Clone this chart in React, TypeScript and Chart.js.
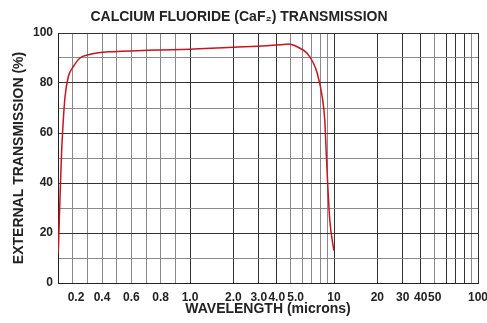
import React, { useEffect, useRef } from 'react';
import { Chart, registerables, LinearScale } from 'chart.js';

// ---- Data ----
const WAVELENGTH = [
  0.102, 0.113, 0.125, 0.136, 0.148, 0.17, 0.204, 0.25, 0.307, 0.375, 0.45, 0.534, 0.761,
  1.0, 1.27, 2.0, 3.42, 4.24, 4.84, 5.54, 6.5, 7.2, 7.64, 8.28, 8.63, 8.83, 9.06, 9.35, 9.97,
];
const TRANSMISSION = [
  12, 33, 53, 65, 74.5, 82.5, 86.5, 90, 91.3, 92.1, 92.5, 92.7, 93.2,
  93.5, 93.8, 94.3, 94.9, 95.3, 95.6, 94.5, 91.9, 87.9, 84, 74.5, 65, 52, 38.5, 25, 13,
];

const X_GRID = [
  0.1, 0.2, 0.3, 0.4, 0.5, 0.6, 0.7, 0.8, 0.9,
  1, 2, 3, 4, 5, 6, 7, 8, 9,
  10, 20, 30, 40, 50, 60, 70, 80, 90, 100,
];
const X_LABEL_VALUES = [0.2, 0.4, 0.6, 0.8, 1, 2, 3, 4, 5, 10, 20, 30, 40, 50, 100];
const X_LABEL_TEXT = ['  0.2', '0.4', '0.6', '0.8', '1.0', '2.0', '3.0', '4.0', '   5.0', '10', '20', '30', '40', '50', '100'];
const X_DARK_GRID = [0.1, 1, 2, 3, 4, 10, 20, 30, 40, 60, 70, 80, 100];
const Y_LABEL_VALUES = [0, 20, 40, 60, 80, 100];

const TITLE = 'CALCIUM FLUORIDE (CaF\u2082) TRANSMISSION';
const X_TITLE = 'WAVELENGTH (microns)';
const Y_TITLE = 'EXTERNAL TRANSMISSION (%)';

// ---- Hybrid axis: linear from 0.1 to 1, logarithmic from 1 to 100 ----
const LINEAR_SPAN = 0.917; // width of the 0.1–1 linear segment, in decades
const toAxis = (v: number) => (v >= 1 ? Math.log10(v) : ((v - 1) / 0.9) * LINEAR_SPAN);
const fromAxis = (u: number) => (u >= 0 ? Math.pow(10, u) : 1 + (u / LINEAR_SPAN) * 0.9);

class HybridScale extends LinearScale {
  static id = 'hybrid';
  static defaults = LinearScale.defaults;
  getPixelForValue(value: number) {
    if (value === null || value === undefined) return NaN;
    const a = toAxis(this.min);
    const b = toAxis(this.max);
    return this.getPixelForDecimal((toAxis(value) - a) / (b - a));
  }
  getValueForPixel(pixel: number) {
    const a = toAxis(this.min);
    const b = toAxis(this.max);
    return fromAxis(a + this.getDecimalForPixel(pixel) * (b - a));
  }
}

Chart.register(...registerables, HybridScale);

const FONT = "'Liberation Sans', Arial, Helvetica, sans-serif";
const near = (a: number, b: number) => Math.abs(a - b) < 1e-9;

export default function App() {
  const ref = useRef<HTMLCanvasElement | null>(null);

  useEffect(() => {
    document.body.style.margin = '0';
    const canvas = ref.current;
    if (!canvas) return;
    const chart = new Chart(canvas, {
      type: 'line',
      data: {
        datasets: [
          {
            data: WAVELENGTH.map((x, i) => ({ x, y: TRANSMISSION[i] })),
            borderColor: '#c8141e',
            borderWidth: 1.5,
            pointRadius: 0,
            cubicInterpolationMode: 'monotone',
            fill: false,
          },
        ],
      },
      options: {
        responsive: false,
        animation: false,
        events: [],
        layout: { padding: { left: 0, right: 9, top: 0, bottom: 0 } },
        plugins: {
          legend: { display: false },
          tooltip: { enabled: false },
          title: {
            display: true,
            text: TITLE,
            color: '#222',
            font: { family: FONT, size: 14, weight: 'bold' },
            padding: { top: 9, bottom: 7.2 },
          },
        },
        scales: {
          x: {
            type: 'hybrid' as any,
            min: 0.1,
            max: 100,
            bounds: 'data',
            afterBuildTicks: (scale: any) => {
              scale.ticks = X_GRID.map((v) => ({ value: v }));
            },
            afterFit: (scale: any) => {
              scale.height = 40;
              scale.paddingLeft = 0;
              scale.paddingRight = 0;
            },
            ticks: {
              autoSkip: false,
              maxRotation: 0,
              minRotation: 0,
              padding: 7,
              color: '#222',
              font: { family: FONT, size: 12, weight: 'bold' },
              callback: (value: any) => {
                const i = X_LABEL_VALUES.findIndex((v) => near(v, Number(value)));
                return i >= 0 ? X_LABEL_TEXT[i] : '';
              },
            },
            grid: {
              drawTicks: false,
              lineWidth: 1,
              color: (ctx: any) =>
                ctx.tick && X_DARK_GRID.some((v) => near(v, ctx.tick.value)) ? '#333' : '#8a8a8a',
            },
            border: { display: true, color: '#222', width: 1 },
            title: {
              display: true,
              text: X_TITLE,
              color: '#222',
              font: { family: FONT, size: 14, weight: 'bold' },
              padding: { top: 0, bottom: 5 },
            },
          },
          y: {
            type: 'linear',
            min: 0,
            max: 100,
            afterFit: (scale: any) => {
              scale.width = 58;
              scale.paddingTop = 0;
              scale.paddingBottom = 0;
            },
            ticks: {
              stepSize: 10,
              autoSkip: false,
              padding: 5,
              color: '#222',
              font: { family: FONT, size: 12, weight: 'bold' },
              callback: (value: any) => (Y_LABEL_VALUES.includes(Number(value)) ? String(value) : ''),
            },
            grid: {
              drawTicks: false,
              lineWidth: 1,
              color: (ctx: any) =>
                ctx.tick && ctx.tick.value % 20 === 0 ? '#333' : '#8a8a8a',
            },
            border: { display: true, color: '#222', width: 1 },
            title: {
              display: true,
              text: Y_TITLE,
              color: '#222',
              font: { family: FONT, size: 14, weight: 'bold' },
              padding: { top: 10.5, bottom: 0 },
            },
          },
        },
      },
    });
    return () => chart.destroy();
  }, []);

  return (
    <div style={{ width: 487, height: 323 }}>
      <canvas ref={ref} width={487} height={323} style={{ display: 'block' }} />
    </div>
  );
}
